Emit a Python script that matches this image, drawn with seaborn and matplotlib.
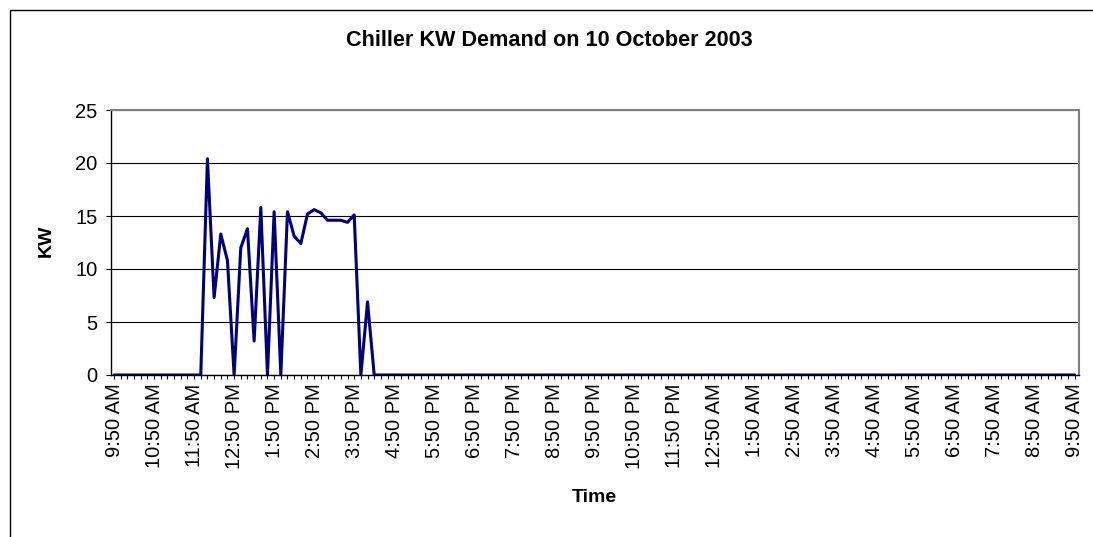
import matplotlib
matplotlib.use("Agg")
import matplotlib.pyplot as plt
import seaborn as sns
import pandas as pd
from matplotlib.patches import Rectangle

# 10-minute readings from 9:50 AM on 10 Oct 2003 to 9:50 AM next day
kw = [
    0, 0, 0, 0, 0, 0, 0, 0, 0, 0, 0, 0, 0, 0,
    20.4, 7.3, 13.3, 10.8, 0, 12.0, 13.8, 3.2, 15.8, 0, 15.4, 0,
    15.4, 13.1, 12.4, 15.2, 15.6, 15.3, 14.6, 14.6, 14.6, 14.4, 15.1,
    0, 6.9,
    0, 0, 0, 0, 0, 0, 0, 0, 0, 0, 0, 0, 0, 0, 0, 0, 0, 0, 0, 0,
    0, 0, 0, 0, 0, 0, 0, 0, 0, 0, 0, 0, 0, 0, 0, 0, 0, 0, 0, 0,
    0, 0, 0, 0, 0, 0, 0, 0, 0, 0, 0, 0, 0, 0, 0, 0, 0, 0, 0, 0,
    0, 0, 0, 0, 0, 0, 0, 0, 0, 0, 0, 0, 0, 0, 0, 0, 0, 0, 0, 0,
    0, 0, 0, 0, 0, 0, 0, 0, 0, 0, 0, 0, 0, 0, 0, 0, 0, 0, 0, 0,
    0, 0, 0, 0, 0, 0,
]

tick_labels = [
    "9:50 AM", "10:50 AM", "11:50 AM", "12:50 PM", "1:50 PM", "2:50 PM",
    "3:50 PM", "4:50 PM", "5:50 PM", "6:50 PM", "7:50 PM", "8:50 PM",
    "9:50 PM", "10:50 PM", "11:50 PM", "12:50 AM", "1:50 AM", "2:50 AM",
    "3:50 AM", "4:50 AM", "5:50 AM", "6:50 AM", "7:50 AM", "8:50 AM",
    "9:50 AM",
]
label_step = 6  # one label per hour (every 6th reading)

y_ticks = [0, 5, 10, 15, 20, 25]

title = "Chiller KW Demand on 10 October 2003"
x_title = "Time"
y_title = "KW"

sns.set_theme(style="white")
plt.rcParams['font.family'] = ['Liberation Sans', 'DejaVu Sans']
plt.rcParams['text.color'] = 'black'
plt.rcParams['xtick.color'] = 'black'
plt.rcParams['ytick.color'] = 'black'

W, H = 1093, 537
fig = plt.figure(figsize=(W / 100, H / 100), dpi=100)
ax = fig.add_axes([110.7 / W, 1 - 375 / H, (1079 - 110.7) / W, (375 - 110) / H])

df = pd.DataFrame({"idx": range(len(kw)), "kw": kw})
sns.lineplot(data=df, x="idx", y="kw", color="#000080", linewidth=2.2, ax=ax)

n = len(kw)
ax.set_xlim(-0.5, n - 1 + 0.65)
ax.set_ylim(0, 25)
ax.set_yticks(y_ticks)
ax.set_yticklabels([str(v) for v in y_ticks], fontsize=14.5)
ax.set_xticks(list(range(0, n, label_step)))
ax.set_xticklabels(tick_labels, rotation=90, fontsize=14.5)
ax.set_xticks(list(range(n)), minor=True)
ax.tick_params(axis='x', which='both', direction='out', length=3.2, width=0.8,
               color='black', bottom=True, pad=3)
ax.tick_params(axis='y', which='major', direction='out', length=3.4, width=0.8,
               color='black', left=True, pad=6)
ax.set_xlabel("")
ax.set_ylabel("")

ax.yaxis.grid(True, color='black', linewidth=0.8)
ax.xaxis.grid(False)
ax.set_axisbelow(True)

for s in ['left', 'bottom']:
    ax.spines[s].set_color('black')
    ax.spines[s].set_linewidth(1.0)
for s in ['top', 'right']:
    ax.spines[s].set_color('#808080')
    ax.spines[s].set_linewidth(1.5)

fig.text(549 / W, 1 - 41 / H, title, ha='center', va='center',
         fontsize=15.6, fontweight='bold')
fig.text(46 / W, 1 - 241 / H, y_title, ha='center', va='center',
         rotation=90, fontsize=14, fontweight='bold')
fig.text(594 / W, 1 - 497 / H, x_title, ha='center', va='center',
         fontsize=14, fontweight='bold')

fig.patches.append(Rectangle((10 / W, -0.5), 2.0, 1.5 - 10 / H,
                             transform=fig.transFigure, fill=False,
                             edgecolor='black', linewidth=1.0))

fig.savefig("out.png", dpi=100)
